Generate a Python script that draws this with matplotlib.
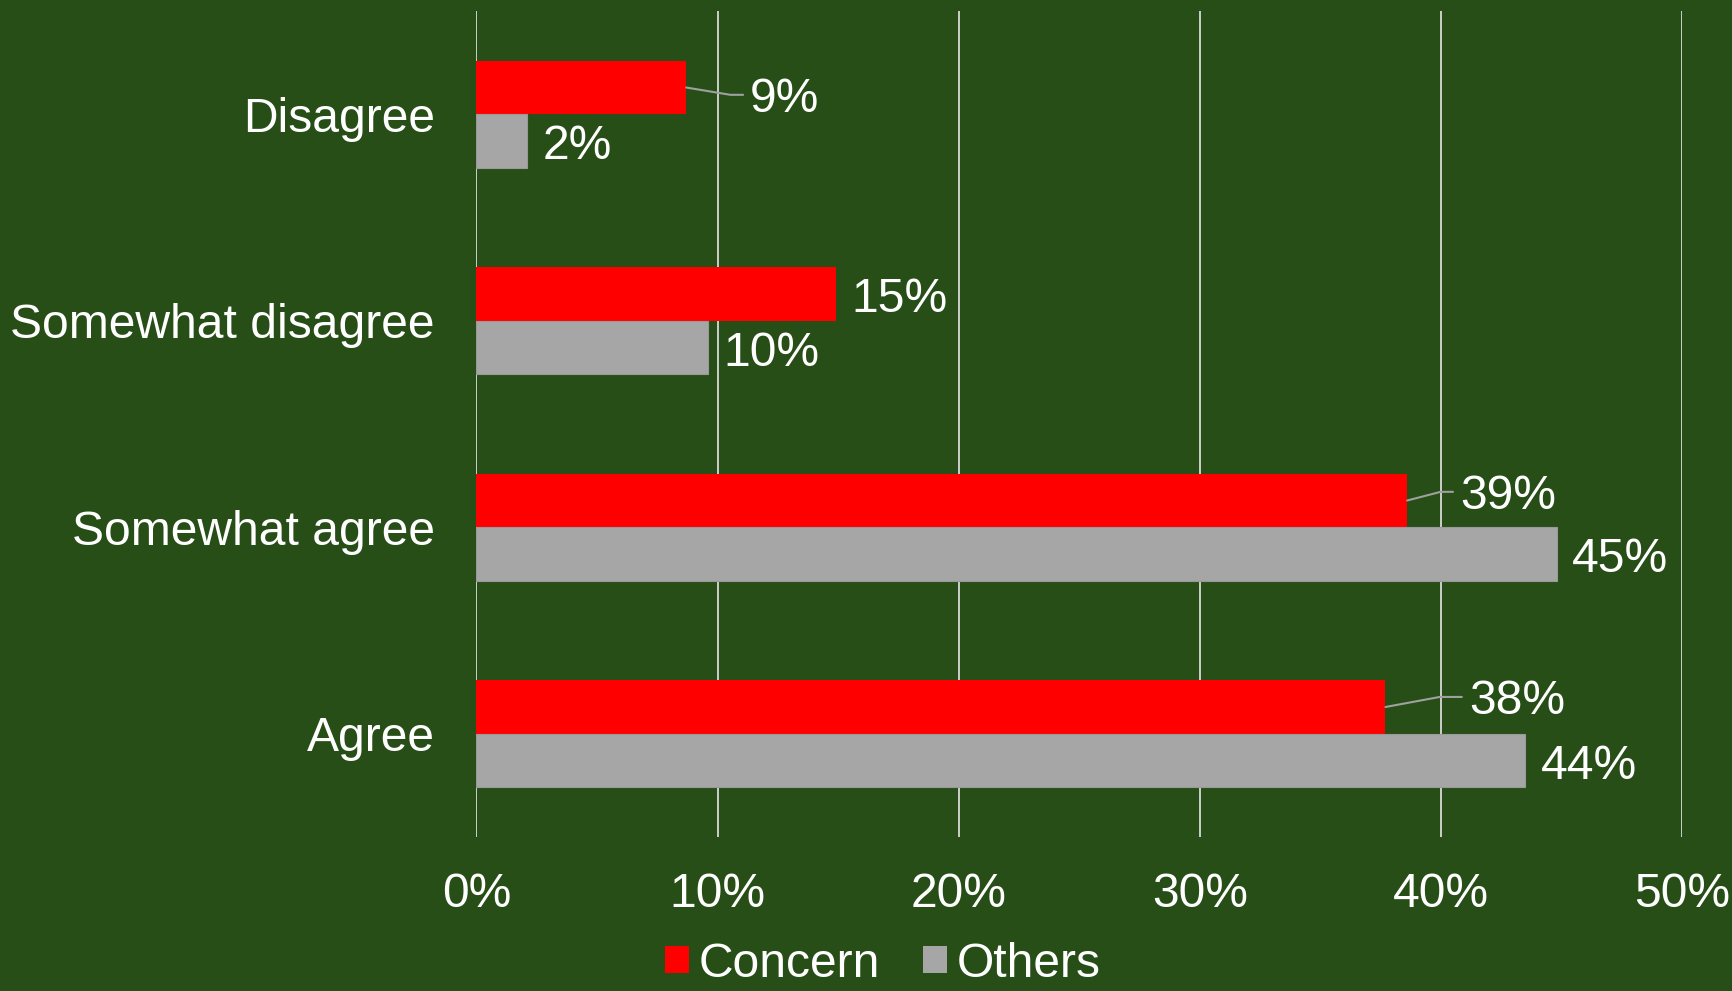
import matplotlib.pyplot as plt
from matplotlib.patches import Patch
from matplotlib.ticker import PercentFormatter
import numpy as np

plt.rcParams['font.family'] = ['Liberation Sans', 'DejaVu Sans']

# Survey answers, bottom to top on the chart
categories = ['Agree', 'Somewhat agree', 'Somewhat disagree', 'Disagree']
concern = [0.377, 0.386, 0.149, 0.087]
others = [0.435, 0.448, 0.096, 0.021]
x_ticks = [0, 0.1, 0.2, 0.3, 0.4, 0.5]

bg = '#274e17'
red = '#ff0000'
grey = '#a6a6a6'
fs = 34.6

fig = plt.figure(figsize=(17.33, 9.91), dpi=100, facecolor=bg)
ax = fig.add_axes([0.2749, 0.1554, 0.6957, 0.8335], facecolor=bg)

y = np.arange(len(categories))
h = 0.259
ax.barh(y + h / 2, concern, height=h, color=red, zorder=3)
ax.barh(y - h / 2, others, height=h, color=grey, edgecolor='#999999',
        linewidth=0.8, zorder=3)

ax.set_xlim(0, 0.5)
ax.set_ylim(-0.5, len(categories) - 0.5)
ax.set_xticks(x_ticks)
ax.xaxis.set_major_formatter(PercentFormatter(1.0, decimals=0))
ax.set_yticks(y)
ax.set_yticklabels(categories)
ax.tick_params(axis='x', length=0, pad=25, labelsize=fs, colors='white')
ax.tick_params(axis='y', length=0, pad=30, labelsize=fs, colors='white')
ax.grid(axis='x', color='#d9d9d9', linewidth=1.3, zorder=0)
for side in ['top', 'right', 'bottom', 'left']:
    ax.spines[side].set_visible(False)

# Grey value labels sit just past the bar ends
for yi, v in zip(y, others):
    ax.annotate(f'{v:.0%}', xy=(v, yi - h / 2), xytext=(11, -4),
                textcoords='offset points', ha='left', va='center',
                fontsize=fs, color='white')

# Red value labels: some were dragged off and have leader lines
leader = {0: (60, 4, 10.5), 1: (38, 3, 14.5), 3: (46, -8.5, -9.4)}
for i, (yi, v) in enumerate(zip(y, concern)):
    if i in leader:
        dx, dy, ang = leader[i]
        ax.annotate(f'{v:.0%}', xy=(v, yi + h / 2), xytext=(dx, dy),
                    textcoords='offset points', ha='left', va='center',
                    fontsize=fs, color='white',
                    arrowprops=dict(arrowstyle='-', color='#a0a0a0', lw=1.5,
                                    relpos=(0, 0.6), shrinkA=3, shrinkB=0,
                                    connectionstyle=f'angle,angleA=0,angleB={ang},rad=0'))
    else:
        ax.annotate(f'{v:.0%}', xy=(v, yi + h / 2), xytext=(11, -4),
                    textcoords='offset points', ha='left', va='center',
                    fontsize=fs, color='white')

handles = [Patch(facecolor=red, label='Concern'),
           Patch(facecolor=grey, label='Others')]
fig.legend(handles=handles, loc='center', bbox_to_anchor=(0.5095, 0.027),
           ncol=2, frameon=False, fontsize=fs, labelcolor='white',
           handlelength=0.5, handleheight=0.5, handletextpad=0.2,
           columnspacing=0.9, borderpad=0, borderaxespad=0)

fig.savefig('out.png', dpi=100, facecolor=bg)
